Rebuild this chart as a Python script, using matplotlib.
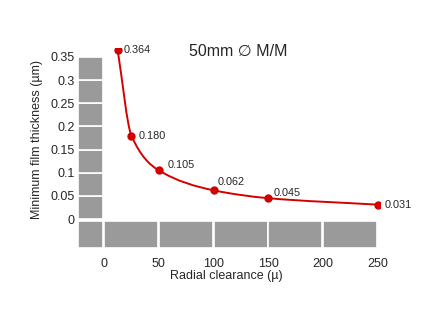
import numpy as np
import matplotlib
matplotlib.use("Agg")
import matplotlib.pyplot as plt
from matplotlib.path import Path
from matplotlib.patches import PathPatch, Rectangle

# data
clearance = [12.5, 25, 50, 100, 150, 250]
thickness = [0.364, 0.180, 0.105, 0.062, 0.045, 0.031]
point_labels = ["0.364", "0.180", "0.105", "0.062", "0.045", "0.031"]
label_offsets = [(4, 0), (5, 0), (6, 4), (3, 6), (4, 4), (5, 0)]
x_ticks = [0, 50, 100, 150, 200, 250]
y_ticks = [0, 0.05, 0.1, 0.15, 0.2, 0.25, 0.3, 0.35]
y_ticklabels = ["0", "0.05", "0.1", "0.15", "0.2", "0.25", "0.3", "0.35"]

plt.rcParams["font.family"] = ["Liberation Sans", "DejaVu Sans"]

RED = "#d40000"
GRAY = "#9a9a9a"
TXT = "#262626"

fig = plt.figure(figsize=(4.33, 3.25), dpi=100)
ax = fig.add_axes([0.1795, 0.2363, 0.6986, 0.617])
ax.set_xlim(-24, 252)
ax.set_ylim(-0.063, 0.37)
for s in ax.spines.values():
    s.set_visible(False)

# gray block frame (left column + bottom row)
left_x0 = -23.5
for y0, y1 in zip(y_ticks[:-1], y_ticks[1:]):
    ax.add_patch(Rectangle((left_x0, y0), -left_x0 - 0.8, y1 - y0,
                           facecolor=GRAY, edgecolor="white", lw=1.2))
row_edges = [left_x0] + x_ticks
for x0, x1 in zip(row_edges[:-1], row_edges[1:]):
    ax.add_patch(Rectangle((x0, -0.062), x1 - x0 - 0.8, 0.057,
                           facecolor=GRAY, edgecolor="white", lw=1.2))


# smooth curve through the points (monotone cubic, drawn as bezier segments)
def pchip_path(x, y):
    x = np.asarray(x, float)
    y = np.asarray(y, float)
    h = np.diff(x)
    d = np.diff(y) / h
    m = np.zeros_like(y)
    for k in range(1, len(x) - 1):
        if d[k - 1] * d[k] > 0:
            w1 = 2 * h[k] + h[k - 1]
            w2 = h[k] + 2 * h[k - 1]
            m[k] = (w1 + w2) / (w1 / d[k - 1] + w2 / d[k])
    m[0] = d[0]
    m[-1] = d[-1]
    verts = [(x[0], y[0])]
    codes = [Path.MOVETO]
    for k in range(len(x) - 1):
        verts += [(x[k] + h[k] / 3, y[k] + m[k] * h[k] / 3),
                  (x[k + 1] - h[k] / 3, y[k + 1] - m[k + 1] * h[k] / 3),
                  (x[k + 1], y[k + 1])]
        codes += [Path.CURVE4] * 3
    return Path(verts, codes)


ax.add_patch(PathPatch(pchip_path(clearance, thickness), facecolor="none",
                       edgecolor=RED, lw=1.4, zorder=3))
ax.plot(clearance, thickness, "o", color=RED, ms=5, zorder=4)

for xv, yv, lab, off in zip(clearance, thickness, point_labels, label_offsets):
    ax.annotate(lab, (xv, yv), xytext=off, textcoords="offset points",
                fontsize=7.8, color=TXT, ha="left", va="center")

ax.set_xticks(x_ticks)
ax.set_xticklabels([str(t) for t in x_ticks])
ax.set_yticks(y_ticks)
ax.set_yticklabels(y_ticklabels)
ax.tick_params(length=0, labelsize=9, labelcolor=TXT)
ax.tick_params(axis="x", pad=7)
ax.tick_params(axis="y", pad=2)

fig.text(0.522, 0.152, "Radial clearance (µ)", ha="center", va="center",
         fontsize=9, color=TXT)
fig.text(0.086, 0.57, "Minimum film thickness (µm)", ha="center", va="center",
         rotation=90, fontsize=9, color=TXT)
fig.text(0.55, 0.843, "50mm ∅ M/M", ha="center", va="center",
         fontsize=11.5, color=TXT)

fig.savefig("out.png", dpi=100)
